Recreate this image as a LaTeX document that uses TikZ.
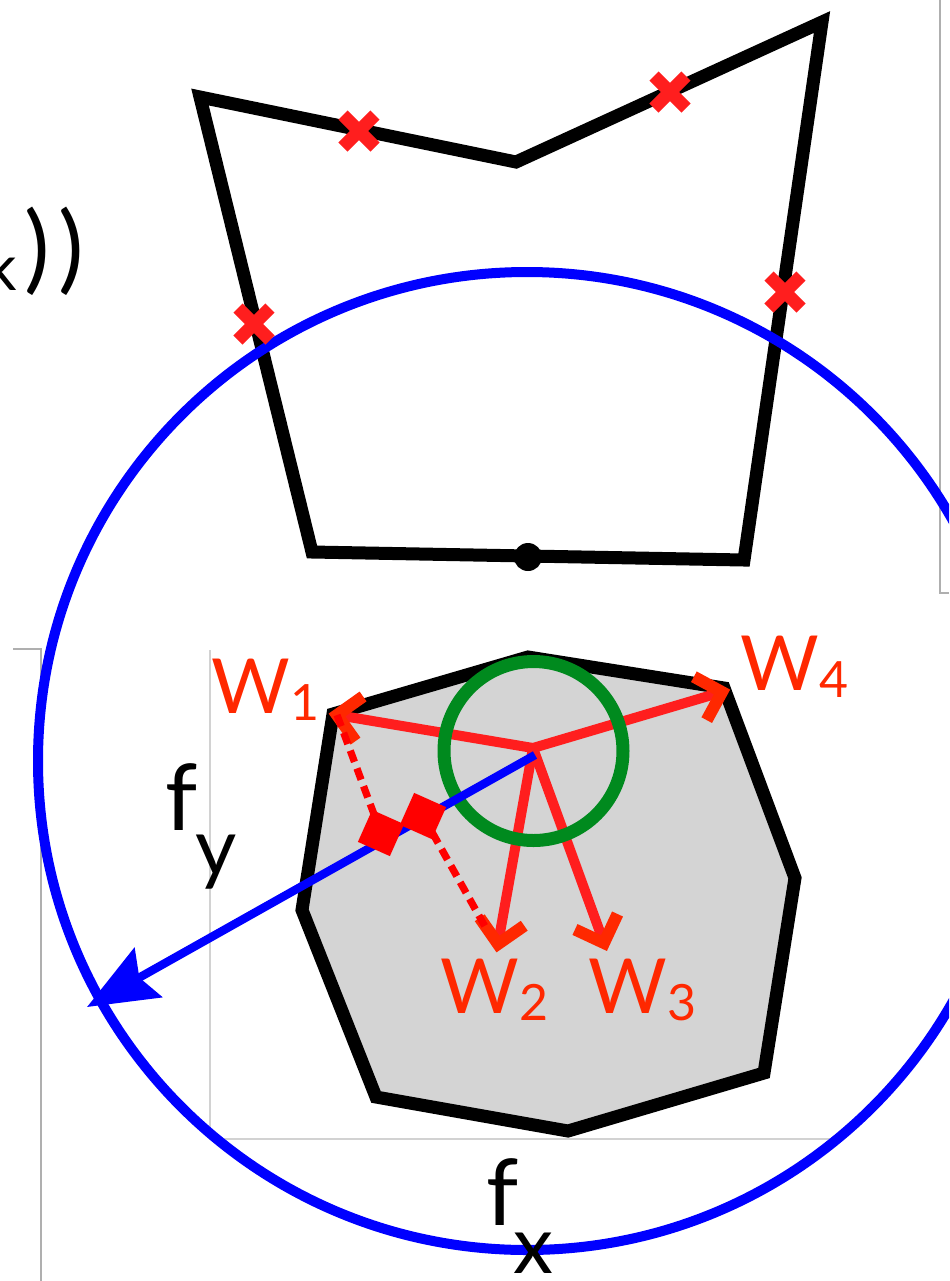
\documentclass[tikz,border=0pt]{standalone}
\usepackage{fontspec}
\setmainfont{Lato}
\usetikzlibrary{arrows.meta,calc}
\definecolor{bluec}{RGB}{0,0,255}
\definecolor{greenc}{RGB}{0,138,30}
\definecolor{redline}{RGB}{255,30,30}
\definecolor{redlab}{RGB}{255,40,0}
\definecolor{redsq}{RGB}{255,0,0}
\definecolor{octfill}{RGB}{212,212,212}
\definecolor{panelc}{RGB}{175,175,175}
\definecolor{axisc}{RGB}{210,210,210}
\newcommand{\mysub}[1]{\raisebox{-3.5pt}{\fontsize{25}{25}\selectfont #1}}
\begin{document}
\begin{tikzpicture}[x=0.5pt,y=-0.5pt,
  panelline/.style={draw=panelc,line width=0.9pt},
  axisline/.style={draw=axisc,line width=1pt},
  shapeedge/.style={draw=black,line width=6.5pt,line join=miter},
  xmark/.style={draw=redline,line width=6.5pt},
  wvec/.style={draw=redline,line width=5pt},
  chevron/.style={draw=redlab,line width=6pt,line join=miter,line cap=butt},
  proj/.style={draw=redsq,line width=3.6pt,dash pattern=on 6pt off 3.5pt},
  sqbox/.style={fill=redsq,minimum size=17.5pt,inner sep=0pt,rotate=-24},
  wlabel/.style={text=redlab,font=\fontsize{38}{38}\selectfont,inner sep=0pt,anchor=base west},
  axlabel/.style={text=black,inner sep=0pt,anchor=base west}
]
\useasboundingbox (0,0) rectangle (949,1281);
\clip (0,0) rectangle (949,1281);

% panel frames and axes
\draw[panelline] (940,0) -- (940,593) -- (949,593);
\draw[panelline] (13,649) -- (41,649) -- (41,1281);
\draw[axisline] (210,650) -- (210,1139) -- (835,1139);

% octagon
\draw[shapeedge,fill=octfill] (333,714) -- (528,657) -- (724,688) -- (795,878) -- (764,1073) -- (568,1131) -- (376,1097) -- (302,910) -- cycle;

% top polygon
\draw[shapeedge] (200,97) -- (516,162) -- (822,22) -- (744,560) -- (312,552) -- cycle;
\fill (528,557) circle[radius=14];

% big blue circle
\draw[bluec,line width=5pt] (527,761) circle[radius=489];

% red x marks
\foreach \a/\b in {359/131,670/92,785/292,254/324}{
  \draw[xmark] (\a-16,\b-16) -- (\a+16,\b+16);
  \draw[xmark] (\a-16,\b+16) -- (\a+16,\b-16);
}

% vectors
\coordinate (C) at (533,748);
\coordinate (w1) at (337,715);
\coordinate (w4) at (722,692);
\coordinate (w2) at (498,944);
\coordinate (w3) at (604,943);
\foreach \w in {w1,w4,w2,w3}{
  \draw[wvec] (C) -- (\w);
  \draw[chevron] ($(\w)!16pt!45:(C)$) -- (\w) -- ($(\w)!16pt!-45:(C)$);
}

% green circle
\draw[greenc,line width=6.5pt] (533.5,751) circle[radius=89.5];

% blue direction arrow
\coordinate (B0) at (535,755);
\coordinate (Btip) at (87,1007);
\draw[bluec,line width=4.2pt,-{Stealth[length=35pt,width=28pt,inset=5pt]}] (B0) -- (Btip);

% projections
\coordinate (s1) at (381,833);
\coordinate (s2) at (423,816);
\coordinate (w2e) at (487,930);
\draw[proj] (w1) -- (s1);
\draw[proj] (s2) -- (w2e);
\node[sqbox] (sq1) at (s1) {};
\node[sqbox] (sq2) at (s2) {};

% labels
\node[wlabel] (l1) at (211,713) {W\mysub{1}};
\node[wlabel] (l4) at (740,690) {W\mysub{4}};
\node[wlabel] (l2) at (440,1013) {W\mysub{2}};
\node[wlabel] (l3) at (588,1013) {W\mysub{3}};

\node[axlabel,font=\fontsize{46}{46}\selectfont] (fy) at (165,830) {f};
\node[axlabel,font=\fontsize{40}{40}\selectfont] (fyy) at (195,875) {y};
\node[axlabel,font=\fontsize{46}{46}\selectfont] (fx) at (486,1225) {f};
\node[axlabel,font=\fontsize{40}{40}\selectfont] (fxx) at (513,1273) {x};

\node[anchor=base east,inner sep=0pt,font=\fontsize{32}{32}\selectfont] (kk) at (17,290) {k};
\node[anchor=base west,inner sep=0pt,font=\fontsize{48}{48}\selectfont] (pp) at (24,281) {){\kern4pt})};
\end{tikzpicture}
\end{document}
